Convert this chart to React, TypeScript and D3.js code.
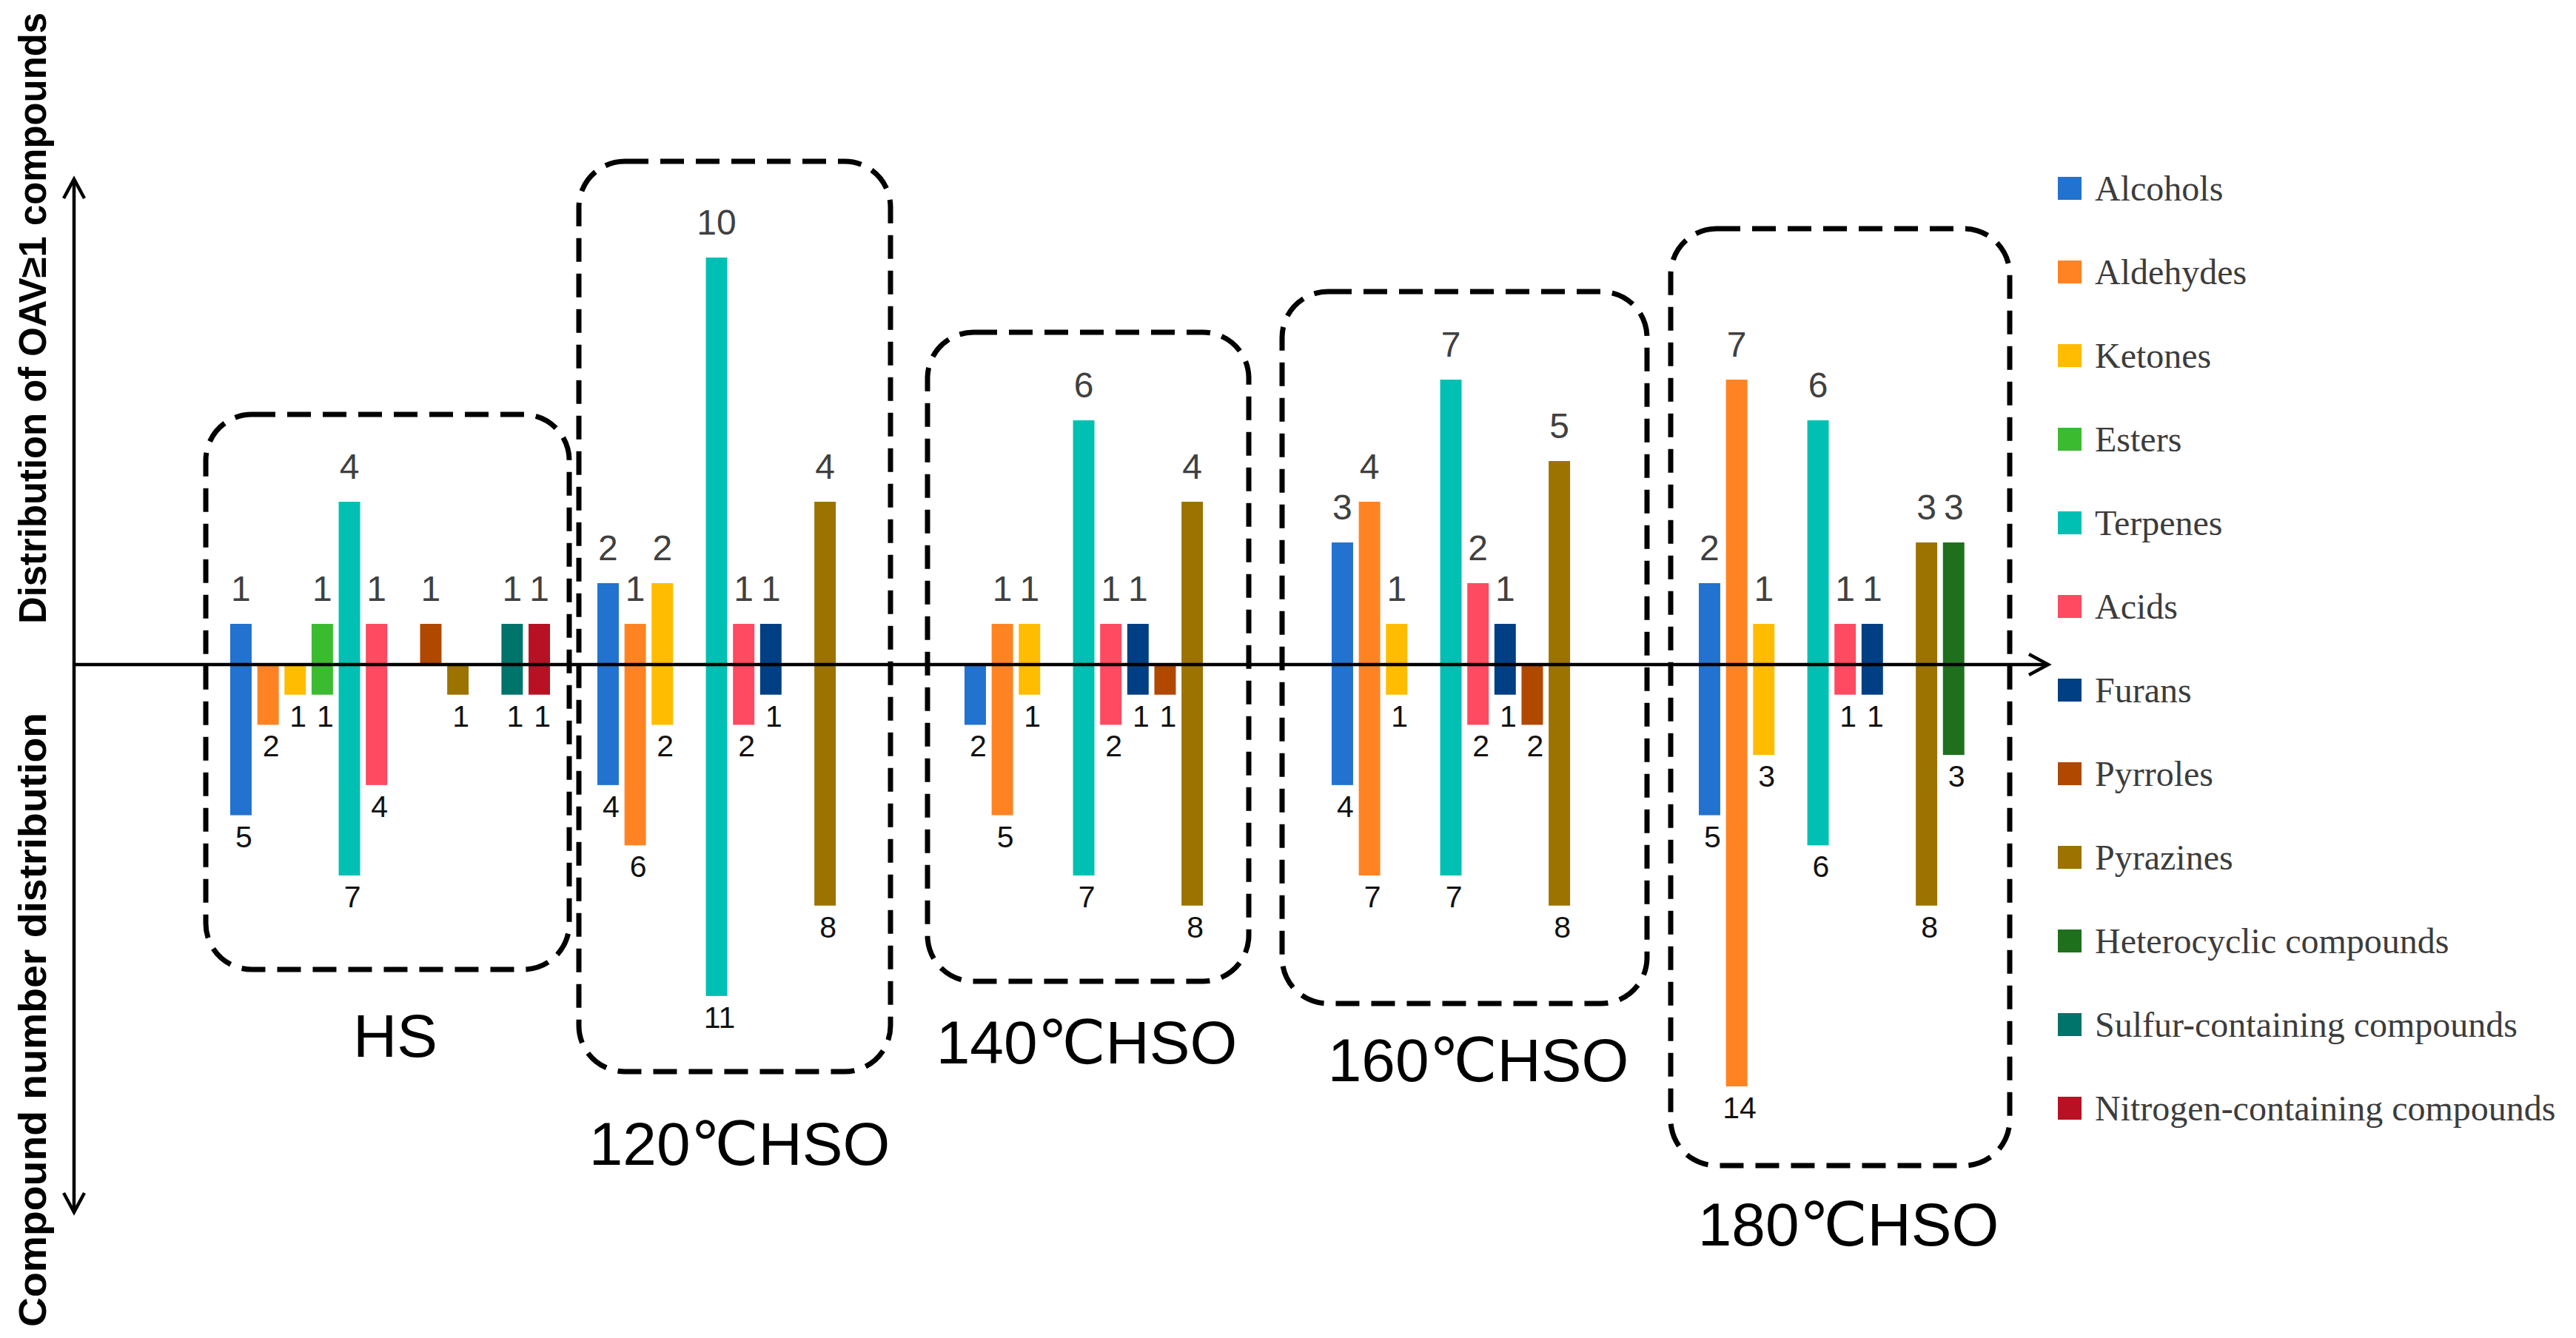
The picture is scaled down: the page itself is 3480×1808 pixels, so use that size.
import React from 'react';
import * as d3 from 'd3';

// categories (legend order = bar order inside each group)
const categories = [
  'Alcohols', 'Aldehydes', 'Ketones', 'Esters', 'Terpenes', 'Acids', 'Furans',
  'Pyrroles', 'Pyrazines', 'Heterocyclic compounds', 'Sulfur-containing compounds',
  'Nitrogen-containing compounds',
];
const colors = [
  '#2272cf', '#ff8323', '#ffbc00', '#3bbc30', '#00c0b3', '#ff4a61', '#003f84',
  '#b04800', '#9c7200', '#1f701d', '#00736a', '#b81124',
];

const groups = ['HS', '120℃HSO', '140℃HSO', '160℃HSO', '180℃HSO'];

// compounds with OAV >= 1 (drawn upward)
const oavHS = [1, 0, 0, 1, 4, 1, 0, 1, 0, 0, 1, 1];
const oav120 = [2, 1, 2, 0, 10, 1, 1, 0, 4, 0, 0, 0];
const oav140 = [0, 1, 1, 0, 6, 1, 1, 0, 4, 0, 0, 0];
const oav160 = [3, 4, 1, 0, 7, 2, 1, 0, 5, 0, 0, 0];
const oav180 = [2, 7, 1, 0, 6, 1, 1, 0, 3, 3, 0, 0];

// total compound numbers (drawn downward)
const numHS = [5, 2, 1, 1, 7, 4, 0, 0, 1, 0, 1, 1];
const num120 = [4, 6, 2, 0, 11, 2, 1, 0, 8, 0, 0, 0];
const num140 = [2, 5, 1, 0, 7, 2, 1, 1, 8, 0, 0, 0];
const num160 = [4, 7, 1, 0, 7, 2, 1, 2, 8, 0, 0, 0];
const num180 = [5, 14, 3, 0, 6, 1, 1, 0, 8, 3, 0, 0];

const upSeries = [oavHS, oav120, oav140, oav160, oav180];
const downSeries = [numHS, num120, num140, num160, num180];

const W = 3480;
const H = 1808;
const AXIS_Y = 898;

// dashed frames + group captions (annotation layout)
const frames = [
  { x0: 278, x1: 769, y0: 560, y1: 1310, lx: 534, ly: 1428 },
  { x0: 782, x1: 1203, y0: 218, y1: 1448, lx: 999, ly: 1574 },
  { x0: 1253, x1: 1687, y0: 449, y1: 1326, lx: 1468, ly: 1437 },
  { x0: 1732, x1: 2225, y0: 394, y1: 1356, lx: 1997, ly: 1461 },
  { x0: 2257, x1: 2715, y0: 309, y1: 1575, lx: 2497, ly: 1683 },
];

export default function App() {
  const x0 = d3.scaleBand<string>().domain(groups).range([311, 2727]).paddingInner(0.129).paddingOuter(0);
  const x1 = d3.scaleBand<string>().domain(categories).range([0, x0.bandwidth()]).paddingInner(0.21);
  const yUp = d3.scaleLinear().domain([0, 10]).range([AXIS_Y, AXIS_Y - 550]);
  const yDown = d3.scaleLinear().domain([0, 14]).range([AXIS_Y, AXIS_Y + 570]);
  const bw = x1.bandwidth();

  const numFont = "Arial, 'Liberation Sans', sans-serif";

  return (
    <svg
      width={W}
      height={H}
      viewBox={`0 0 ${W} ${H}`}
      style={{ position: 'absolute', left: 0, top: 0, background: '#fff' }}
    >
      <rect width={W} height={H} fill="#fff" />

      {/* bars */}
      {groups.map((g, gi) => (
        <g key={g}>
          {categories.map((c, ci) => {
            const up = upSeries[gi][ci];
            const dn = downSeries[gi][ci];
            const x = (x0(g) || 0) + (x1(c) || 0);
            return (
              <g key={c}>
                {up > 0 && (
                  <rect x={x} y={yUp(up)} width={bw} height={AXIS_Y - yUp(up)} fill={colors[ci]} />
                )}
                {dn > 0 && (
                  <rect x={x} y={AXIS_Y} width={bw} height={yDown(dn) - AXIS_Y} fill={colors[ci]} />
                )}
                {up > 0 && (
                  <text x={x + bw / 2} y={yUp(up) - 31} textAnchor="middle" fontSize={48}
                    fontFamily={numFont} fill="#404040">{up}</text>
                )}
                {dn > 0 && (
                  <text x={x + bw / 2 + 4} y={yDown(dn) + 43} textAnchor="middle" fontSize={41}
                    fontFamily={numFont} fill="#111">{dn}</text>
                )}
              </g>
            );
          })}
        </g>
      ))}

      {/* dashed frames */}
      {frames.map((f, i) => (
        <g key={i}>
          <rect x={f.x0} y={f.y0} width={f.x1 - f.x0} height={f.y1 - f.y0} rx={62} ry={62}
            fill="none" stroke="#000" strokeWidth={7} strokeDasharray="32 16" />
          <text x={f.lx} y={f.ly} textAnchor="middle" fontSize={82}
            fontFamily="Arial, 'Liberation Sans', 'DejaVu Sans', sans-serif" fill="#000">{groups[i]}</text>
        </g>
      ))}

      {/* horizontal axis with arrow */}
      <line x1={100} x2={2766} y1={AXIS_Y} y2={AXIS_Y} stroke="#000" strokeWidth={4.5} />
      <polyline points={`2741,884 2767,${AXIS_Y} 2741,912`} fill="none" stroke="#000" strokeWidth={4.5} />

      {/* vertical double arrow */}
      <line x1={100} x2={100} y1={243} y2={1637} stroke="#000" strokeWidth={4.5} />
      <polyline points="86,268 100,242 114,268" fill="none" stroke="#000" strokeWidth={4.5} />
      <polyline points="86,1612 100,1638 114,1612" fill="none" stroke="#000" strokeWidth={4.5} />

      {/* side titles */}
      <text transform="translate(62,430) rotate(-90)" textAnchor="middle" fontSize={51} fontWeight="bold"
        fontFamily="'Liberation Sans', Arial, sans-serif" textLength={826} lengthAdjust="spacingAndGlyphs">
        Distribution of OAV≥1 compounds
      </text>
      <text transform="translate(62,1378) rotate(-90)" textAnchor="middle" fontSize={51} fontWeight="bold"
        fontFamily="'Liberation Sans', Arial, sans-serif" textLength={830} lengthAdjust="spacingAndGlyphs">
        Compound number distribution
      </text>

      {/* legend */}
      {categories.map((c, i) => (
        <g key={c} transform={`translate(2780,${239 + i * 113})`}>
          <rect width={32} height={31} fill={colors[i]} />
          <text x={50} y={32} fontSize={48} fontFamily="'Liberation Serif', 'Times New Roman', serif" fill="#3c3c3c">
            {c}
          </text>
        </g>
      ))}
    </svg>
  );
}
